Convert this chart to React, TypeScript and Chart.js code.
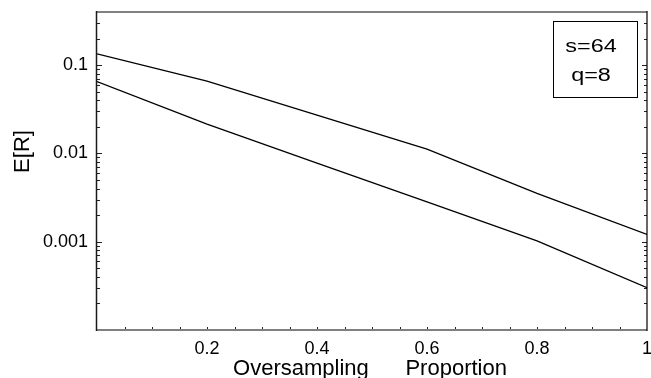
import React, { useEffect, useRef } from "react";
import { Chart, registerables } from "chart.js";

Chart.register(...registerables);

// ---- data ----
const xValues = [0, 0.2, 0.4, 0.6, 0.8, 1];
const upperSeries = [0.134, 0.0661, 0.0272, 0.0112, 0.00353, 0.00121];
const lowerSeries = [0.0652, 0.0215, 0.00778, 0.00282, 0.00102, 0.000301];
const yLabelValues = [0.001, 0.01, 0.1];
const xLabelValues = [0.2, 0.4, 0.6, 0.8, 1];
const legendLines = ["s=64", "q=8"];
const xTitle = "Oversampling\u00a0\u00a0\u00a0\u00a0\u00a0\u00a0Proportion";
const yTitle = "E[R]";
const yMin = 0.0001;
const yMax = 0.4;

const FONT = "'Liberation Sans', Arial, Helvetica, sans-serif";

const framePlugin = {
  id: "framePlugin",
  afterDraw(chart: any) {
    const { ctx, chartArea } = chart;
    const { left, right, top, bottom } = chartArea;
    const xs = chart.scales.x;
    const ys = chart.scales.y;
    ctx.save();

    // inward tick marks
    ctx.strokeStyle = "#222";
    ctx.lineWidth = 1;
    ctx.beginPath();
    const minExp = Math.floor(Math.log10(ys.min));
    const maxExp = Math.ceil(Math.log10(ys.max));
    for (let e = minExp; e <= maxExp; e++) {
      for (let m = 1; m <= 9; m++) {
        const v = m * Math.pow(10, e);
        if (v < ys.min * 1.0001 || v > ys.max * 0.9999) continue;
        const py = Math.round(ys.getPixelForValue(v)) + 0.5;
        const len = m === 1 ? 5 : 3;
        ctx.moveTo(left, py);
        ctx.lineTo(left + len, py);
        ctx.moveTo(right, py);
        ctx.lineTo(right - len, py);
      }
    }
    for (let i = 1; i < 20; i++) {
      const v = i * 0.05;
      const px = Math.round(xs.getPixelForValue(v)) + 0.5;
      ctx.moveTo(px, bottom);
      ctx.lineTo(px, bottom - 3);
    }
    ctx.stroke();

    // frame
    ctx.strokeStyle = "#808080";
    ctx.lineWidth = 2;
    ctx.beginPath();
    ctx.moveTo(left - 1, top);
    ctx.lineTo(right, top);
    ctx.moveTo(left - 1, bottom);
    ctx.lineTo(right, bottom);
    ctx.stroke();
    ctx.strokeStyle = "#1a1a1a";
    ctx.lineWidth = 1.5;
    ctx.beginPath();
    ctx.moveTo(left - 0.5, top - 1);
    ctx.lineTo(left - 0.5, bottom + 1);
    ctx.stroke();
    ctx.strokeStyle = "#000";
    ctx.lineWidth = 1.2;
    ctx.beginPath();
    ctx.moveTo(right, top - 1);
    ctx.lineTo(right, bottom + 1);
    ctx.stroke();

    // titles
    ctx.fillStyle = "#000";
    ctx.font = `22px ${FONT}`;
    ctx.textAlign = "center";
    ctx.textBaseline = "alphabetic";
    ctx.fillText(xTitle, (left + right) / 2 - 2, 375);
    ctx.save();
    ctx.translate(28.5, 151.5);
    ctx.rotate(-Math.PI / 2);
    ctx.fillText(yTitle, 0, 0);
    ctx.restore();

    // legend box
    const bx = right - 94.5;
    const by = top + 9;
    ctx.strokeStyle = "#000";
    ctx.lineWidth = 1;
    ctx.strokeRect(Math.round(bx) + 0.5, Math.round(by) + 0.5, 84, 76);
    ctx.font = `18px ${FONT}`;
    const baselines = [52, 81];
    legendLines.forEach((t, i) => {
      ctx.save();
      ctx.translate(591, baselines[i]);
      ctx.scale(1.3, 1);
      ctx.fillText(t, 0, 0);
      ctx.restore();
    });

    ctx.restore();
  },
};

export default function App() {
  const ref = useRef<HTMLCanvasElement | null>(null);

  useEffect(() => {
    if (!ref.current) return;
    const chart = new Chart(ref.current, {
      type: "line",
      data: {
        datasets: [
          {
            data: xValues.map((x, i) => ({ x, y: upperSeries[i] })),
            borderColor: "#000",
            borderWidth: 1.3,
            pointRadius: 0,
            tension: 0,
            fill: false,
          },
          {
            data: xValues.map((x, i) => ({ x, y: lowerSeries[i] })),
            borderColor: "#000",
            borderWidth: 1.3,
            pointRadius: 0,
            tension: 0,
            fill: false,
          },
        ],
      },
      options: {
        responsive: false,
        animation: false,
        devicePixelRatio: 1,
        layout: { padding: { left: 0, top: 12, right: 4, bottom: 0 } },
        plugins: { legend: { display: false }, tooltip: { enabled: false } },
        scales: {
          x: {
            type: "linear",
            min: 0,
            max: 1,
            grid: { display: false, drawTicks: false },
            border: { display: false },
            ticks: {
              stepSize: 0.2,
              autoSkip: false,
              maxRotation: 0,
              padding: 8,
              color: "#000",
              font: { family: FONT, size: 18 },
              callback: (v: any) => {
                const n = Number(Number(v).toFixed(2));
                return xLabelValues.some((t) => Math.abs(t - n) < 1e-9) ? String(n) : "";
              },
            },
            afterFit: (s: any) => {
              s.height = 48;
              s.paddingLeft = 0;
              s.paddingRight = 0;
            },
          },
          y: {
            type: "logarithmic",
            min: yMin,
            max: yMax,
            grid: { display: false, drawTicks: false },
            border: { display: false },
            ticks: {
              autoSkip: false,
              padding: 9,
              color: "#000",
              font: { family: FONT, size: 18 },
              callback: (v: any) => {
                const n = Number(v);
                const hit = yLabelValues.find((t) => Math.abs(t - n) / t < 1e-6);
                return hit !== undefined ? String(hit) : "";
              },
            },
            afterFit: (s: any) => {
              s.width = 97;
              s.paddingTop = 0;
              s.paddingBottom = 0;
            },
          },
        },
      },
      plugins: [framePlugin],
    });
    return () => chart.destroy();
  }, []);

  return (
    <div style={{ position: "absolute", left: 0, top: 0, width: 651, height: 378, background: "#fff" }}>
      <canvas ref={ref} width={651} height={378} style={{ width: 651, height: 378, display: "block" }} />
    </div>
  );
}
